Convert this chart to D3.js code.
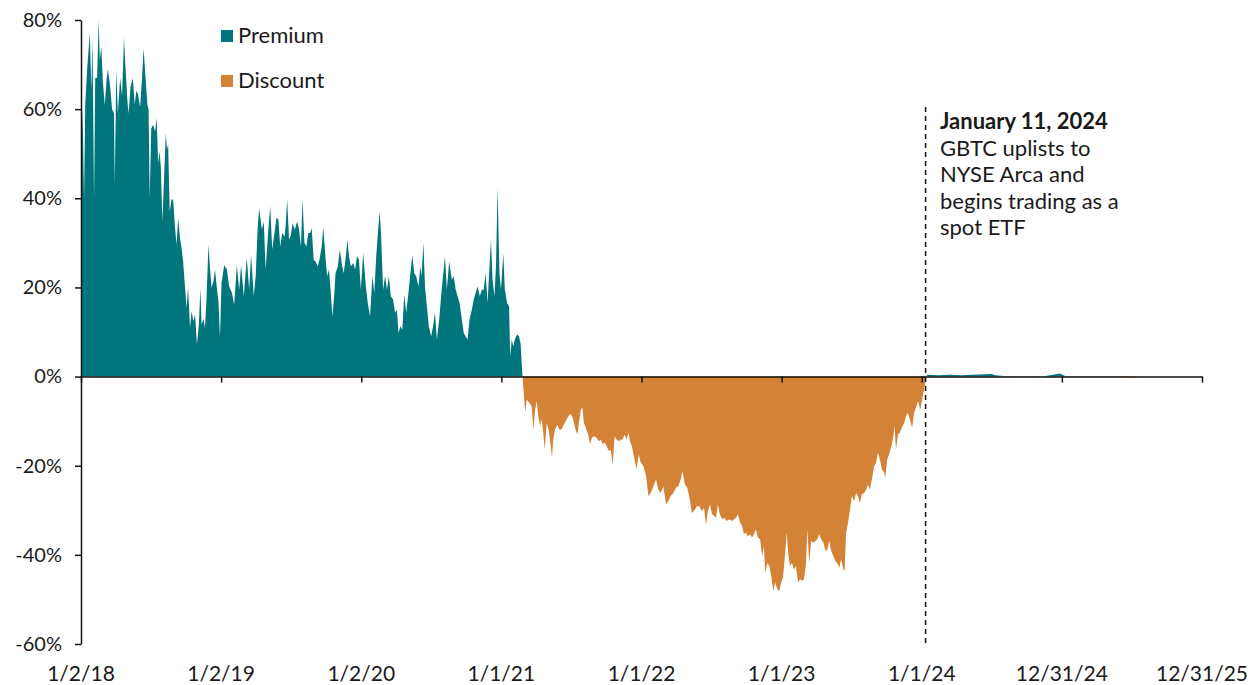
<!DOCTYPE html>
<html>
<head>
<meta charset="utf-8">
<script src="https://cdn.jsdelivr.net/npm/d3@7"></script>
<style>
  body { margin: 0; background: #fff; }
  svg { font-family: Lato, "Open Sans", sans-serif; }
</style>
</head>
<body>
<div class="chart"></div>
<script>
// premium/discount of GBTC vs NAV
var dates = [
  "2018-01-02","2018-01-06","2018-01-10","2018-01-13","2018-01-18","2018-01-25","2018-01-29","2018-02-01","2018-02-05","2018-02-08",
  "2018-02-13","2018-02-17","2018-02-20","2018-02-24","2018-02-28","2018-03-05","2018-03-10","2018-03-13","2018-03-19","2018-03-24",
  "2018-03-29","2018-03-31","2018-04-04","2018-04-08","2018-04-14","2018-04-19","2018-04-24","2018-04-27","2018-05-03","2018-05-06",
  "2018-05-11","2018-05-17","2018-05-22","2018-05-26","2018-05-30","2018-06-05","2018-06-10","2018-06-14","2018-06-20","2018-06-24",
  "2018-06-27","2018-06-30","2018-07-04","2018-07-09","2018-07-14","2018-07-18","2018-07-22","2018-07-26","2018-07-29","2018-08-02",
  "2018-08-07","2018-08-11","2018-08-14","2018-08-17","2018-08-21","2018-08-26","2018-08-30","2018-09-04","2018-09-08","2018-09-12",
  "2018-09-17","2018-09-21","2018-09-25","2018-09-30","2018-10-04","2018-10-08","2018-10-13","2018-10-17","2018-10-22","2018-10-26",
  "2018-10-31","2018-11-05","2018-11-09","2018-11-12","2018-11-17","2018-11-21","2018-11-25","2018-11-30","2018-12-04","2018-12-08",
  "2018-12-13","2018-12-17","2018-12-21","2018-12-26","2018-12-30","2019-01-03","2019-01-10","2019-01-17","2019-01-23","2019-01-30",
  "2019-02-05","2019-02-12","2019-02-18","2019-02-23","2019-03-02","2019-03-10","2019-03-16","2019-03-21","2019-03-28","2019-04-02",
  "2019-04-07","2019-04-11","2019-04-18","2019-04-23","2019-04-28","2019-05-05","2019-05-10","2019-05-15","2019-05-21","2019-05-26",
  "2019-05-31","2019-06-05","2019-06-10","2019-06-16","2019-06-19","2019-06-23","2019-06-28","2019-07-03","2019-07-07","2019-07-13",
  "2019-07-19","2019-07-24","2019-07-29","2019-08-02","2019-08-07","2019-08-12","2019-08-17","2019-08-22","2019-08-26","2019-08-31",
  "2019-09-05","2019-09-11","2019-09-16","2019-09-21","2019-09-25","2019-09-30","2019-10-05","2019-10-10","2019-10-14","2019-10-19",
  "2019-10-24","2019-10-27","2019-11-02","2019-11-07","2019-11-12","2019-11-17","2019-11-22","2019-11-27","2019-12-01","2019-12-06",
  "2019-12-12","2019-12-17","2019-12-22","2019-12-27","2020-01-01","2020-01-07","2020-01-14","2020-01-19","2020-01-25","2020-01-31",
  "2020-02-05","2020-02-10","2020-02-15","2020-02-19","2020-02-22","2020-02-28","2020-03-04","2020-03-09","2020-03-14","2020-03-19",
  "2020-03-25","2020-03-30","2020-04-04","2020-04-08","2020-04-13","2020-04-18","2020-04-23","2020-04-28","2020-05-04","2020-05-09",
  "2020-05-14","2020-05-19","2020-05-24","2020-05-30","2020-06-04","2020-06-07","2020-06-12","2020-06-16","2020-06-21","2020-06-26",
  "2020-07-02","2020-07-07","2020-07-12","2020-07-17","2020-07-23","2020-07-28","2020-08-02","2020-08-07","2020-08-12","2020-08-18",
  "2020-08-25","2020-08-30","2020-09-04","2020-09-09","2020-09-14","2020-09-20","2020-09-25","2020-09-30","2020-10-05","2020-10-10",
  "2020-10-16","2020-10-21","2020-10-26","2020-10-31","2020-11-06","2020-11-11","2020-11-16","2020-11-21","2020-11-26","2020-12-02",
  "2020-12-05","2020-12-09","2020-12-14","2020-12-18","2020-12-22","2020-12-27","2020-12-31","2021-01-06","2021-01-10","2021-01-16",
  "2021-01-21","2021-01-24","2021-01-28","2021-02-01","2021-02-05","2021-02-11","2021-02-16","2021-02-20","2021-02-25","2021-03-04",
  "2021-03-08","2021-03-15","2021-03-21","2021-03-25","2021-03-30","2021-04-03","2021-04-07","2021-04-12","2021-04-16","2021-04-20",
  "2021-04-24","2021-04-29","2021-05-04","2021-05-08","2021-05-13","2021-05-16","2021-05-21","2021-05-27","2021-06-01","2021-06-06",
  "2021-06-11","2021-06-17","2021-06-22","2021-06-27","2021-07-02","2021-07-07","2021-07-13","2021-07-18","2021-07-21","2021-07-27",
  "2021-07-31","2021-08-04","2021-08-09","2021-08-15","2021-08-20","2021-08-25","2021-08-30","2021-09-06","2021-09-12","2021-09-17",
  "2021-09-22","2021-09-27","2021-10-02","2021-10-08","2021-10-13","2021-10-18","2021-10-23","2021-10-28","2021-11-03","2021-11-08",
  "2021-11-13","2021-11-18","2021-11-23","2021-11-28","2021-12-02","2021-12-07","2021-12-12","2021-12-19","2021-12-25","2021-12-30",
  "2022-01-06","2022-01-13","2022-01-19","2022-01-25","2022-02-01","2022-02-08","2022-02-14","2022-02-20","2022-02-27","2022-03-06",
  "2022-03-12","2022-03-18","2022-03-25","2022-04-01","2022-04-07","2022-04-13","2022-04-18","2022-04-24","2022-04-30","2022-05-07",
  "2022-05-12","2022-05-20","2022-05-25","2022-06-01","2022-06-07","2022-06-13","2022-06-18","2022-06-23","2022-06-28","2022-07-04",
  "2022-07-09","2022-07-14","2022-07-19","2022-07-24","2022-07-30","2022-08-04","2022-08-11","2022-08-18","2022-08-24","2022-08-30",
  "2022-09-04","2022-09-09","2022-09-15","2022-09-20","2022-09-25","2022-09-30","2022-10-05","2022-10-11","2022-10-16","2022-10-21",
  "2022-10-26","2022-10-31","2022-11-06","2022-11-11","2022-11-16","2022-11-19","2022-11-25","2022-11-30","2022-12-05","2022-12-10",
  "2022-12-15","2022-12-21","2022-12-26","2022-12-31","2023-01-05","2023-01-11","2023-01-14","2023-01-19","2023-01-23","2023-01-28",
  "2023-02-02","2023-02-07","2023-02-13","2023-02-18","2023-02-23","2023-02-28","2023-03-05","2023-03-09","2023-03-14","2023-03-19",
  "2023-03-24","2023-03-30","2023-04-04","2023-04-09","2023-04-14","2023-04-20","2023-04-25","2023-04-30","2023-05-05","2023-05-10",
  "2023-05-16","2023-05-21","2023-05-26","2023-05-31","2023-06-05","2023-06-11","2023-06-14","2023-06-18","2023-06-23","2023-06-28",
  "2023-07-03","2023-07-09","2023-07-14","2023-07-19","2023-07-24","2023-07-29","2023-08-04","2023-08-09","2023-08-14","2023-08-19",
  "2023-08-24","2023-08-30","2023-09-04","2023-09-09","2023-09-14","2023-09-19","2023-09-25","2023-09-28","2023-10-03","2023-10-08",
  "2023-10-14","2023-10-19","2023-10-22","2023-10-26","2023-10-31","2023-11-05","2023-11-10","2023-11-16","2023-11-21","2023-11-26",
  "2023-12-01","2023-12-07","2023-12-12","2023-12-17","2023-12-22","2023-12-28","2024-01-02","2024-01-07","2024-01-10","2024-01-11",
  "2024-01-16","2024-02-15","2024-03-15","2024-04-15","2024-05-10","2024-07-01","2024-07-10","2024-07-25","2024-08-15","2024-11-15",
  "2024-12-26","2025-01-10","2025-05-01","2025-07-04","2025-07-20","2025-09-30"
];
var premium = [
  40,60.6,40,61,69,77,64,76,39.7,67,
  67,80,71,74,66,61,67,69,65,60,
  59,43,69,59,67,63,76,70.7,61.7,59,
  65,67,61,64,63.5,60.5,67,73.6,66,61,
  60,40,55.7,56.5,55,58,48,50.5,46.8,34.8,
  46,54.6,51,52,37,39.7,39.7,33.3,29.6,35.6,
  31,28.8,25.8,19.9,15.4,19.9,10.9,14.6,12.4,13.9,
  7.2,11.6,19.9,11.6,13,10.9,17.6,29.6,24.4,19.9,
  21.4,24,20.6,16.9,8.7,21,25,24,20.2,18.8,
  16.1,25,19.5,25,18,26.6,19.5,27.3,18,22.5,
  33,37.8,33,34.8,24,33,38.2,28.5,32.2,35.6,
  35.3,29.2,32.2,31.4,33.6,39.7,30.7,31.8,34.4,33,
  34.8,33,29.2,39.7,30,29.2,32.2,32.2,33.3,26.2,
  25.8,24.7,26.6,29.2,33.6,27.7,22.5,24,19.5,13.5,
  18.8,23.2,24.7,28.5,25.5,23.2,26.2,30.7,27,24.7,
  25.5,24,27,26.2,19.5,27.7,20.2,16.5,13.5,22.5,
  18.8,27,33,37,33,19.5,22.5,19.5,22.5,18,
  17.3,14.3,15,9.8,11.3,10.5,18.4,14.3,18.8,23.2,
  27.3,23.2,22.5,20.2,24.7,22.5,30,20.2,15.8,11.3,
  9,11.3,14.3,8.3,12.8,18,22.5,27,19.5,25.8,
  21.7,22.5,19.5,18,16.5,12.8,9.8,9,8.3,12.8,
  15,17.3,18.8,20.2,18,19.5,19.5,23.2,16.5,26.2,
  30.7,21.7,18,24.7,42.3,23.2,19.5,27.7,19.5,16.5,
  15.8,4.5,8.3,6.8,8.3,9.5,9,7.5,0,-8.1,
  -5.2,-5.9,-6.7,-11.9,-7.4,-5.5,-8.9,-11.1,-9.6,-12.6,
  -16.4,-10.4,-11.9,-14.5,-18.2,-14.1,-11.9,-10.8,-11.9,-11.9,
  -11.1,-10,-9.3,-8.5,-8.5,-9.6,-11.9,-13,-11.1,-7.4,
  -7,-10.4,-11.5,-13,-15.2,-13.7,-13.4,-13.7,-14.5,-14.1,
  -15.2,-14.8,-15.6,-16.7,-16.4,-19.7,-13.4,-14.1,-14.5,-14.1,
  -14.1,-13,-14.1,-12.6,-14.5,-15.6,-17.9,-20.8,-17.5,-19.3,
  -20.1,-22.3,-26.8,-26.1,-24.6,-23.1,-25.4,-26.1,-24.6,-28.7,
  -27.9,-26.8,-26.1,-24.9,-24.6,-23.1,-21.2,-24.2,-24.9,-27.6,
  -30.6,-29.9,-29.1,-29.1,-30.2,-29.5,-33.2,-30.2,-28.7,-30.9,
  -31.3,-31.7,-28.7,-30.9,-32,-31.7,-32.4,-32,-32.4,-32,
  -31.7,-30.9,-32.8,-33.5,-35.4,-35,-35.8,-35.4,-36.1,-35.4,
  -34.3,-36.1,-36.5,-40.3,-38,-44,-41.8,-42.5,-44.8,-48.1,
  -46.2,-47.7,-48.1,-46.2,-44.8,-38.8,-35,-40.3,-42.5,-41.8,
  -43.3,-42.5,-46.2,-45.5,-45.8,-45.5,-42.5,-34.3,-41.8,-36.9,
  -37.3,-36.9,-36.5,-35.4,-36.5,-37.3,-39.1,-38.8,-36.9,-39.1,
  -40.3,-41.4,-41.8,-42.9,-41,-43.3,-43.6,-35,-32.8,-29.8,
  -26.8,-27.9,-26.1,-26.8,-28.3,-26.4,-26.1,-25.4,-24.2,-25.4,
  -23.1,-20.1,-19.3,-17.1,-18.6,-20.8,-21.6,-22.7,-18.6,-17.5,
  -15.6,-13.4,-11.1,-16.4,-13,-12.6,-11.5,-10.4,-8.9,-8.1,
  -9.6,-11.5,-8.1,-7,-5.5,-7.4,-5.2,-2.9,-1.4,0,
  0.4,0.3,0.4,0.3,0.4,0.6,0.3,0.2,0.05,0.05,
  0.7,0.05,0.05,-0.2,0,0
];

var yTicks = [80, 60, 40, 20, 0, -20, -40, -60];
var xTickDates = ["2018-01-02","2019-01-02","2020-01-02","2021-01-01","2022-01-01","2023-01-01","2024-01-01","2024-12-31","2025-12-31"];
var xTickLabels = ["1/2/18","1/2/19","1/2/20","1/1/21","1/1/22","1/1/23","1/1/24","12/31/24","12/31/25"];
var legendNames = ["Premium", "Discount"];
var eventDate = "2024-01-11";
var noteTitle = "January 11, 2024";
var noteLines = ["GBTC uplists to", "NYSE Arca and", "begins trading as a", "spot ETF"];

var teal = "#00757B";
var orange = "#D38236";

var svgWidth = 1254, svgHeight = 685;
var margin = { top: 20, right: 52, bottom: 41, left: 81 };
var chartWidth = svgWidth - margin.left - margin.right;
var chartHeight = svgHeight - margin.top - margin.bottom;

var parse = d3.timeParse("%Y-%m-%d");
var data = dates.map(function(d, i) { return { date: parse(d), value: premium[i] }; });

var svg = d3.select(".chart").append("svg")
    .attr("width", svgWidth)
    .attr("height", svgHeight);

var chartGroup = svg.append("g")
    .attr("transform", `translate(${margin.left}, ${margin.top})`);

var xScale = d3.scaleTime()
    .domain([parse("2018-01-02"), parse("2025-12-31")])
    .range([0, chartWidth]);
var yScale = d3.scaleLinear()
    .domain([-60, 80])
    .range([chartHeight, 0]);

// two areas, split at zero
var posArea = d3.area()
    .x(d => xScale(d.date))
    .y0(yScale(0))
    .y1(d => yScale(Math.max(0, d.value)));
var negArea = d3.area()
    .x(d => xScale(d.date))
    .y0(yScale(0))
    .y1(d => yScale(Math.min(0, d.value)));

chartGroup.append("path").datum(data)
    .attr("d", posArea).attr("fill", teal);
chartGroup.append("path").datum(data)
    .attr("d", negArea).attr("fill", orange);

// dashed event line
var ex = xScale(parse(eventDate));
chartGroup.append("line")
    .attr("x1", ex).attr("x2", ex)
    .attr("y1", 87).attr("y2", chartHeight)
    .attr("stroke", "#111").attr("stroke-width", 1.5)
    .attr("stroke-dasharray", "5,4");

// y axis
var yAxis = d3.axisLeft(yScale).tickValues(yTicks).tickSize(6).tickSizeOuter(0)
    .tickFormat(d => d + "%");
var yG = chartGroup.append("g").call(yAxis);
yG.select(".domain").attr("stroke", "#111").attr("stroke-width", 1.5);
yG.selectAll(".tick line").attr("stroke", "#111").attr("stroke-width", 1.5);
yG.selectAll(".tick text")
    .attr("x", -19)
    .attr("font-size", "20px")
    .attr("font-family", "Lato, sans-serif")
    .attr("fill", "#1a1a1a");

// x axis along zero, labels at the bottom
var xAxis = d3.axisBottom(xScale)
    .tickValues(xTickDates.map(parse))
    .tickSize(6).tickSizeOuter(0)
    .tickFormat("");
var xG = chartGroup.append("g")
    .attr("transform", `translate(0, ${yScale(0)})`)
    .call(xAxis);
xG.select(".domain").attr("stroke", "#111").attr("stroke-width", 1.5);
xG.selectAll(".tick line").attr("stroke", "#111").attr("stroke-width", 1.5);

chartGroup.append("g").selectAll("text")
    .data(xTickDates)
    .enter()
    .append("text")
    .attr("x", d => xScale(parse(d)))
    .attr("y", chartHeight + 37)
    .attr("text-anchor", "middle")
    .attr("font-size", "21px")
    .attr("fill", "#1a1a1a")
    .text((d, i) => xTickLabels[i]);

// legend
var legend = svg.append("g").attr("transform", "translate(221, 30)");
legendNames.forEach(function(name, i) {
    var g = legend.append("g").attr("transform", `translate(0, ${i * 45})`);
    g.append("rect").attr("width", 12).attr("height", 12)
        .attr("fill", i === 0 ? teal : orange);
    g.append("text").attr("x", 17).attr("y", 13)
        .attr("font-size", "22px").attr("fill", "#1a1a1a")
        .text(name);
});

// annotation
var note = svg.append("text")
    .attr("x", 940).attr("y", 129)
    .attr("font-size", "22px").attr("fill", "#1a1a1a");
note.append("tspan").attr("x", 940).attr("font-weight", "bold").text(noteTitle);
noteLines.forEach(function(line) {
    note.append("tspan").attr("x", 940).attr("dy", 26.6).text(line);
});
</script>
</body>
</html>
